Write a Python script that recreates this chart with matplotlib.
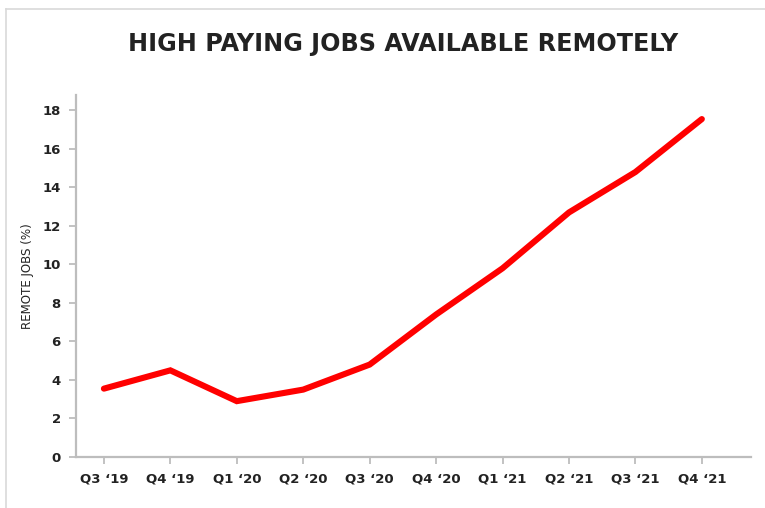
import matplotlib
matplotlib.use("Agg")
import matplotlib.pyplot as plt
from matplotlib.lines import Line2D

quarters = ["Q3 \u201819", "Q4 \u201819", "Q1 \u201820", "Q2 \u201820", "Q3 \u201820",
            "Q4 \u201820", "Q1 \u201821", "Q2 \u201821", "Q3 \u201821", "Q4 \u201821"]
remote_pct = [3.55, 4.5, 2.9, 3.5, 4.8, 7.4, 9.8, 12.7, 14.8, 17.55]
yticks = [0, 2, 4, 6, 8, 10, 12, 14, 16, 18]

GRAY = "#bdbdbd"
TEXT = "#222222"

fig = plt.figure(figsize=(7.65, 5.08), dpi=100)
ax = fig.add_axes([76 / 765, 1 - 457 / 508, (751 - 76) / 765, (457 - 95) / 508])

x = range(len(quarters))
ax.plot(x, remote_pct, color="#ff0000", lw=4.4, solid_capstyle="round",
        solid_joinstyle="miter")

ax.set_xlim(-0.42, 9.74)
ax.set_ylim(0, 18.8)
ax.set_xticks(list(x))
ax.set_xticklabels(quarters)
ax.set_yticks(yticks)

for side in ("top", "right"):
    ax.spines[side].set_visible(False)
for side in ("left", "bottom"):
    ax.spines[side].set_color(GRAY)
    ax.spines[side].set_linewidth(1.6)

ax.tick_params(axis="both", colors=GRAY, length=5, width=1.3, pad=6,
               labelcolor=TEXT, labelsize=9.5)
for lab in ax.get_xticklabels() + ax.get_yticklabels():
    lab.set_fontweight("bold")

ax.set_ylabel("REMOTE JOBS (%)", fontsize=8.6, color=TEXT, labelpad=6)

fig.text(403 / 765, 1 - 44 / 508, "HIGH PAYING JOBS AVAILABLE REMOTELY",
         ha="center", va="center", fontsize=17.2, fontweight="heavy", color=TEXT)

# thin frame along the top and left edges
fig.add_artist(Line2D([6 / 765, 1], [1 - 9 / 508, 1 - 9 / 508],
                      transform=fig.transFigure, color="#d9d9d9", lw=1.2))
fig.add_artist(Line2D([6 / 765, 6 / 765], [0, 1 - 9 / 508],
                      transform=fig.transFigure, color="#d9d9d9", lw=1.2))

fig.savefig("out.png", dpi=100)
